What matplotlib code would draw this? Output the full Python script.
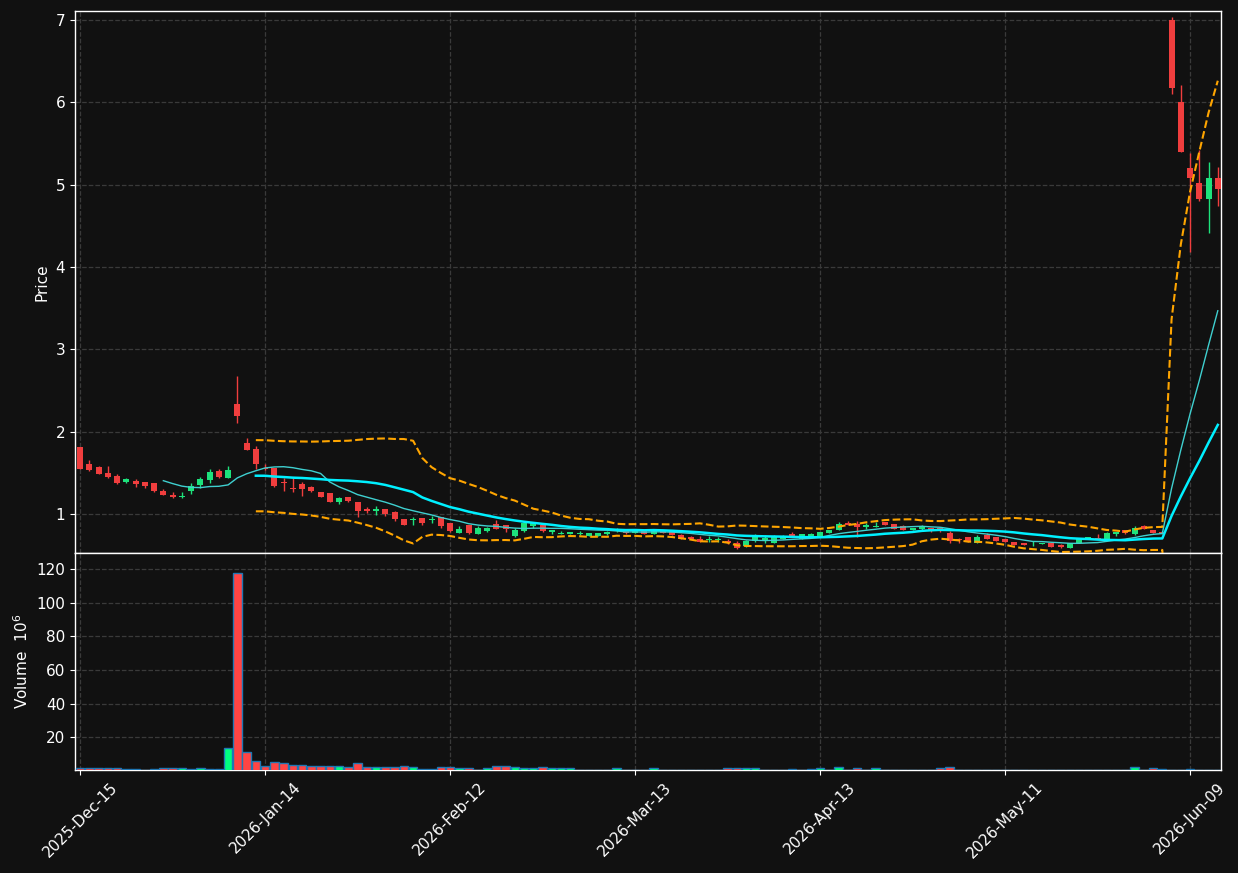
import numpy as np
import pandas as pd
import matplotlib
matplotlib.use('Agg')
import matplotlib.pyplot as plt

# daily OHLC
opens = [1.81, 1.61, 1.57, 1.50, 1.46, 1.39, 1.40, 1.39, 1.38, 1.28,
         1.23, 1.20, 1.28, 1.35, 1.41, 1.52, 1.43, 2.34, 1.86, 1.79,
         1.56, 1.56, 1.39, 1.32, 1.36, 1.33, 1.27, 1.25, 1.15, 1.20,
         1.15, 1.06, 1.03, 1.06, 1.02, 0.94, 0.92, 0.95, 0.92, 0.96,
         0.89, 0.77, 0.86, 0.76, 0.79, 0.88, 0.87, 0.73, 0.79, 0.85,
         0.87, 0.78, 0.76, 0.76, 0.75, 0.73, 0.73, 0.75, 0.79, 0.81,
         0.77, 0.79, 0.76, 0.80, 0.79, 0.74, 0.72, 0.70, 0.68, 0.68,
         0.67, 0.64, 0.61, 0.67, 0.68, 0.65, 0.70, 0.76, 0.70, 0.72,
         0.73, 0.77, 0.81, 0.89, 0.88, 0.84, 0.84, 0.90, 0.88, 0.85,
         0.80, 0.82, 0.83, 0.83, 0.77, 0.69, 0.72, 0.64, 0.74, 0.72,
         0.70, 0.66, 0.65, 0.64, 0.63, 0.65, 0.62, 0.59, 0.64, 0.69,
         0.71, 0.70, 0.76, 0.80, 0.75, 0.85, 0.81, 0.78, 7.00, 6.00,
         5.20, 5.02, 4.83, 5.08]
highs = [1.81, 1.66, 1.58, 1.58, 1.49, 1.44, 1.42, 1.39, 1.38, 1.30,
         1.26, 1.26, 1.38, 1.45, 1.54, 1.55, 1.58, 2.68, 1.92, 1.83,
         1.60, 1.56, 1.43, 1.43, 1.39, 1.34, 1.27, 1.25, 1.21, 1.21,
         1.15, 1.08, 1.10, 1.06, 1.04, 0.94, 0.96, 0.95, 0.97, 0.96,
         0.89, 0.85, 0.86, 0.85, 0.84, 0.92, 0.87, 0.83, 0.90, 0.89,
         0.88, 0.80, 0.79, 0.78, 0.79, 0.77, 0.77, 0.79, 0.83, 0.81,
         0.81, 0.79, 0.82, 0.80, 0.79, 0.75, 0.73, 0.73, 0.73, 0.72,
         0.70, 0.67, 0.68, 0.75, 0.74, 0.74, 0.74, 0.78, 0.75, 0.77,
         0.78, 0.81, 0.90, 0.91, 0.91, 0.89, 0.90, 0.90, 0.88, 0.87,
         0.83, 0.86, 0.83, 0.83, 0.79, 0.71, 0.72, 0.74, 0.77, 0.72,
         0.70, 0.66, 0.65, 0.67, 0.65, 0.65, 0.63, 0.65, 0.70, 0.72,
         0.75, 0.78, 0.78, 0.80, 0.85, 0.86, 0.81, 0.79, 7.04, 6.21,
         5.38, 5.42, 5.28, 5.22]
lows = [1.55, 1.52, 1.49, 1.44, 1.36, 1.37, 1.33, 1.32, 1.27, 1.23,
        1.19, 1.19, 1.24, 1.32, 1.37, 1.43, 1.43, 2.11, 1.77, 1.55,
        1.53, 1.33, 1.28, 1.27, 1.22, 1.27, 1.21, 1.14, 1.12, 1.15,
        0.96, 1.01, 0.99, 0.97, 0.91, 0.86, 0.87, 0.86, 0.89, 0.83,
        0.78, 0.77, 0.75, 0.76, 0.78, 0.82, 0.78, 0.72, 0.78, 0.83,
        0.78, 0.76, 0.75, 0.75, 0.74, 0.73, 0.73, 0.74, 0.78, 0.76,
        0.77, 0.75, 0.76, 0.77, 0.74, 0.70, 0.69, 0.66, 0.66, 0.66,
        0.63, 0.57, 0.60, 0.66, 0.65, 0.65, 0.70, 0.73, 0.70, 0.71,
        0.73, 0.77, 0.80, 0.86, 0.72, 0.82, 0.84, 0.86, 0.82, 0.80,
        0.80, 0.80, 0.78, 0.78, 0.64, 0.64, 0.66, 0.64, 0.69, 0.67,
        0.66, 0.62, 0.62, 0.61, 0.63, 0.60, 0.58, 0.59, 0.64, 0.69,
        0.69, 0.70, 0.73, 0.76, 0.74, 0.82, 0.77, 0.75, 6.10, 5.40,
        4.18, 4.80, 4.41, 4.74]
closes = [1.55, 1.53, 1.49, 1.45, 1.38, 1.42, 1.36, 1.34, 1.28, 1.23,
          1.20, 1.22, 1.34, 1.42, 1.51, 1.45, 1.53, 2.19, 1.78, 1.60,
          1.54, 1.34, 1.37, 1.30, 1.30, 1.28, 1.21, 1.15, 1.19, 1.16,
          1.04, 1.03, 1.06, 1.00, 0.94, 0.87, 0.94, 0.89, 0.94, 0.85,
          0.79, 0.82, 0.77, 0.83, 0.83, 0.82, 0.82, 0.80, 0.89, 0.89,
          0.79, 0.80, 0.77, 0.78, 0.77, 0.77, 0.77, 0.78, 0.80, 0.77,
          0.81, 0.75, 0.82, 0.77, 0.74, 0.70, 0.69, 0.66, 0.69, 0.69,
          0.65, 0.58, 0.67, 0.72, 0.71, 0.73, 0.73, 0.73, 0.75, 0.75,
          0.78, 0.81, 0.88, 0.87, 0.84, 0.87, 0.85, 0.87, 0.82, 0.81,
          0.83, 0.85, 0.81, 0.82, 0.67, 0.68, 0.66, 0.72, 0.70, 0.67,
          0.66, 0.62, 0.62, 0.65, 0.65, 0.60, 0.60, 0.65, 0.70, 0.72,
          0.70, 0.77, 0.78, 0.77, 0.83, 0.82, 0.77, 0.75, 6.17, 5.40,
          5.08, 4.83, 5.08, 4.95]
# volume in millions
volumes = [1.4, 1.4, 1.4, 1.4, 1.4, 0.8, 0.8, 0.5, 0.8, 1.4,
           1.4, 1.4, 0.8, 1.4, 0.8, 0.8, 13.4, 118.0, 11.0, 5.6,
           2.6, 5.0, 4.4, 3.2, 3.2, 2.6, 2.6, 2.6, 2.6, 2.0,
           4.4, 2.0, 2.0, 2.0, 2.0, 2.8, 2.0, 1.2, 1.2, 2.0,
           2.0, 1.4, 1.4, 0.7, 1.4, 2.8, 2.8, 2.0, 1.4, 1.4,
           2.2, 1.4, 1.4, 1.4, 0.6, 0.6, 0.6, 0.6, 1.4, 0.6,
           0.6, 0.6, 1.4, 0.6, 0.6, 0.6, 0.6, 0.6, 0.6, 0.6,
           1.4, 1.4, 1.4, 1.4, 0.6, 0.6, 0.6, 0.9, 0.6, 0.8,
           1.4, 0.6, 2.0, 0.6, 1.4, 0.6, 1.4, 0.6, 0.6, 0.6,
           0.6, 0.6, 0.6, 1.4, 2.0, 0.6, 0.6, 0.6, 0.6, 0.6,
           0.6, 0.6, 0.6, 0.6, 0.6, 0.6, 0.6, 0.6, 0.6, 0.6,
           0.6, 0.6, 0.6, 0.6, 2.0, 0.6, 1.4, 0.8, 0.5, 0.5,
           0.9, 0.5, 0.5, 0.5]
tick_pos = [0, 20, 40, 60, 80, 100, 120]
tick_labels = ['2025-Dec-15', '2026-Jan-14', '2026-Feb-12', '2026-Mar-13',
               '2026-Apr-13', '2026-May-11', '2026-Jun-09']

bg = '#111111'
up_c, down_c = '#1de27c', '#f03e3e'
vol_up, vol_down = '#00ff80', '#ff4444'

o = np.array(opens); h = np.array(highs); l = np.array(lows); c = np.array(closes)
v = np.array(volumes)
x = np.arange(len(c))
up = c >= o
cs = pd.Series(c)
ma10 = cs.rolling(10).mean()
ma20 = cs.rolling(20).mean()
sd20 = cs.rolling(20).std(ddof=0)
upper = ma20 + 2 * sd20
lower = ma20 - 2 * sd20

fig = plt.figure(figsize=(12.38, 8.73), dpi=100, facecolor=bg)
ax1 = fig.add_axes([0.0606, 0.3666, 0.9257, 0.6208], facecolor=bg)
ax2 = fig.add_axes([0.0606, 0.118, 0.9257, 0.2486], facecolor=bg, sharex=ax1)

for ax in (ax1, ax2):
    ax.grid(True, linestyle='--', color='#3a3a3a', linewidth=0.9)
    ax.set_axisbelow(True)
    for s in ax.spines.values():
        s.set_color('white')
        s.set_linewidth(1.0)
    ax.tick_params(colors='white', labelsize=11)

# candles
colors = np.where(up, up_c, down_c)
ax1.vlines(x, l, h, colors=colors, linewidth=1.0, zorder=2)
body = np.maximum(np.abs(c - o), 0.012)
ax1.bar(x, body, bottom=np.minimum(o, c), width=0.65, color=colors,
        linewidth=0, zorder=3)

ax1.plot(x, ma10, color='#3fd0d0', linewidth=1.0, zorder=4)
ax1.plot(x, ma20, color='#00f0ff', linewidth=1.8, zorder=4)
ax1.plot(x, upper, color='#ffa500', linewidth=1.5, linestyle='--', zorder=4)
ax1.plot(x, lower, color='#ffa500', linewidth=1.5, linestyle='--', zorder=4)

ax1.set_ylim(0.525, 7.11)
ax1.set_xlim(-0.55, len(c) - 0.65)
ax1.set_yticks([1, 2, 3, 4, 5, 6, 7])
ax1.set_ylabel('Price', color='white', fontsize=11)
ax1.tick_params(axis='x', labelbottom=False)

# volume
ax2.bar(x, v, width=0.9, color=np.where(up, vol_up, vol_down),
        edgecolor='#1f77b4', linewidth=1.0, zorder=3)
ax2.set_ylim(0.42, 1.1 * v.max())
ax2.set_yticks([20, 40, 60, 80, 100, 120])
ax2.set_ylabel('Volume  $10^6$', color='white', fontsize=11)
ax2.set_xticks(tick_pos)
ax2.set_xticklabels(tick_labels, rotation=45)

fig.savefig('out.png', dpi=100, facecolor=bg)
